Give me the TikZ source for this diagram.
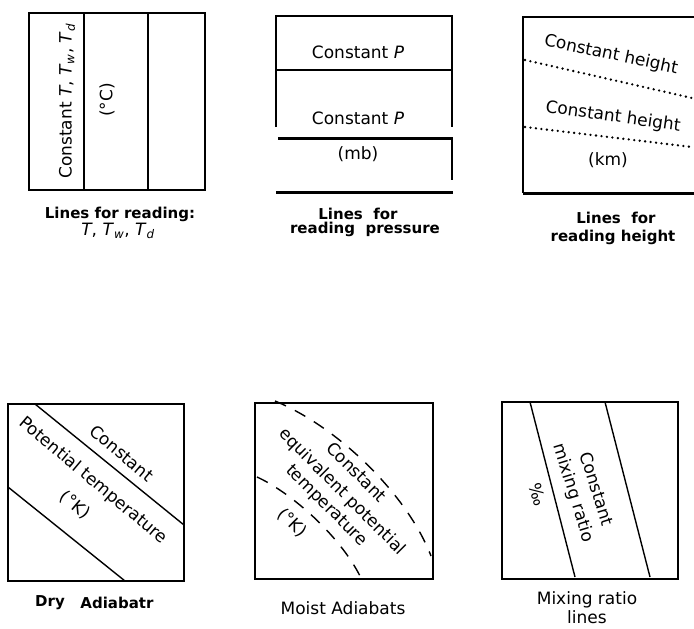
\documentclass[tikz,border=0pt]{standalone}
\usepackage{fontspec}
\setmainfont{DejaVu Sans}
\usetikzlibrary{positioning}

\begin{document}
\begin{tikzpicture}[x=1pt, y=-1pt, line width=1.4pt,
	lbl/.style={inner sep=0pt, font=\fontsize{17}{19}\selectfont},
	capb/.style={inner sep=0pt, font=\fontsize{15}{17}\selectfont\bfseries},
	capn/.style={inner sep=0pt, font=\fontsize{17}{19}\selectfont},
	heavy/.style={line width=3pt},
	dots/.style={line width=2.6pt, line cap=round, dash pattern=on 0pt off 5.5pt},
	dashline/.style={dash pattern=on 12pt off 10pt}]
	\useasboundingbox (0,0) rectangle (694,629);
	\draw (29,13) rectangle (205,190);
	\draw (84,13) -- (84,190);
	\draw (148,13) -- (148,190);
	\node[lbl, rotate=90] (CT) at (67,101) {Constant \textit{T}, \textit{T}\textsubscript{\textit{w}}, \textit{T}\textsubscript{\textit{d}}};
	\node[lbl, rotate=90] (DC) at (107,100) {(°C)};
	\node[capb] (L1) at (120,214) {Lines for reading:};
	\node[capn] (L1b) at (118,231) {\textit{T}, \textit{T}\textsubscript{\textit{w}}, \textit{T}\textsubscript{\textit{d}}};

	\draw (276,127) -- (276,16) -- (452,16) -- (452,127);
	\draw (276,70) -- (452,70);
	\draw[heavy] (278,138) -- (453,138);
	\draw (452,138) -- (452,180);
	\draw[heavy] (276,192) -- (453,192);
	\node[lbl] (CP1) at (358,52) {Constant \textit{P}};
	\node[lbl] (CP2) at (358,118) {Constant \textit{P}};
	\node[lbl] (MB) at (358,154) {(mb)};
	\node[capb] (L2) at (358,214) {Lines\ \ for};
	\node[capb] (L2b) at (365,229) {reading\ \ pressure};

	\draw (694,17) -- (523,17) -- (523,193);
	\draw[heavy] (523,193) -- (694,193);
	\draw[dots] (525,60) -- (692,98);
	\draw[dots] (525,127) -- (692,147);
	\node[lbl, rotate=-12] (CH1) at (611,55) {Constant height};
	\node[lbl, rotate=-8] (CH2) at (613,117) {Constant height};
	\node[lbl] (KM) at (608,160) {(km)};
	\node[capb] (L3) at (616,218) {Lines\ \ for};
	\node[capb] (L3b) at (613,237) {reading height};

	\draw (8,404) rectangle (184,581);
	\draw (35,404) -- (184,525);
	\draw (8,487) -- (125,581);
	\node[lbl, rotate=-40] (CO) at (122,453) {Constant};
	\node[lbl, rotate=-40] (PT) at (93,481) {Potential temperature};
	\node[lbl, rotate=-40] (DK) at (75,505) {(°K)};
	\node[capb] (DRY) at (50,603) {Dry};
	\node[capb] (ADI) at (117,603) {Adiabatr};

	\draw (255,403) rectangle (433,579);
	\draw[dashline] (275,401) .. controls (340,428) and (408,496) .. (431,556);
	\draw[dashline] (257,477) .. controls (290,492) and (340,535) .. (361,578);
	\node[lbl, rotate=-45] (CE) at (357,472) {Constant};
	\node[lbl, rotate=-45] (EP) at (342,492) {equivalent potential};
	\node[lbl, rotate=-45] (TE) at (326,506) {temperature};
	\node[lbl, rotate=-45] (EK) at (292,523) {(°K)};
	\node[capn] (MA) at (343,608) {Moist Adiabats};

	\draw (502,402) rectangle (678,579);
	\draw (530,402) -- (575,577);
	\draw (605,402) -- (650,577);
	\node[lbl, rotate=-73] (CM) at (597,489) {Constant};
	\node[lbl, rotate=-73] (MR) at (573,493) {mixing ratio};
	\node[lbl, rotate=-73] (PM) at (538,495) {‰};
	\node[capn] (L6) at (587,600) {Mixing ratio};
	\node[capn] (L6b) at (587,617) {lines};
\end{tikzpicture}
\end{document}
